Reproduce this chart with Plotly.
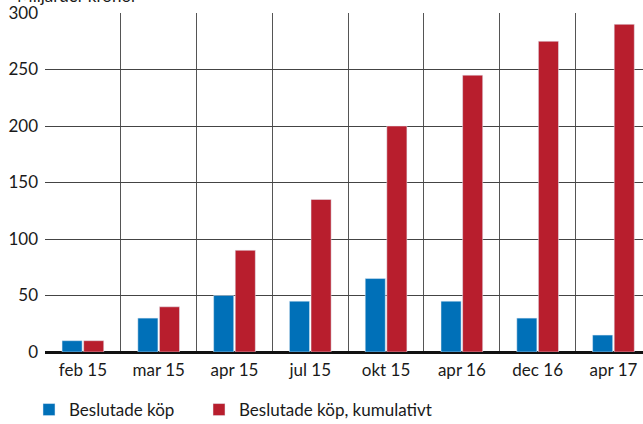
import plotly.graph_objects as go

categories = ["feb 15", "mar 15", "apr 15", "jul 15", "okt 15", "apr 16", "dec 16", "apr 17"]
beslutade = [10, 30, 50, 45, 65, 45, 30, 15]
kumulativt = [10, 40, 90, 135, 200, 245, 275, 290]
y_ticks = [0, 50, 100, 150, 200, 250, 300]

FONT = "Lato"
BLUE = "#0070b8"
RED = "#b81e2d"

fig = go.Figure()
fig.add_bar(x=categories, y=beslutade, name="Beslutade köp", marker_color=BLUE,
            legend="legend", showlegend=True)
fig.add_bar(x=categories, y=kumulativt, name="Beslutade köp, kumulativt", marker_color=RED,
            legend="legend2", showlegend=True)

legend_common = dict(orientation="h", xref="container", yref="container",
                     xanchor="left", y=0.033, yanchor="middle",
                     font=dict(size=17), bgcolor="rgba(0,0,0,0)")

fig.update_layout(
    width=643, height=424,
    showlegend=True,
    margin=dict(l=45, r=0, t=13, b=72, autoexpand=False),
    paper_bgcolor="white", plot_bgcolor="white",
    barmode="group", bargap=0.43, bargroupgap=0.07,
    font=dict(family=FONT, size=17, color="#1a1a1a"),
    legend=dict(x=0.0451, **legend_common),
    legend2=dict(x=0.3095, **legend_common),
    annotations=[dict(text="Miljarder kronor", xref="paper", yref="paper",
                      x=-0.05, y=1.0, xanchor="left", yanchor="bottom", yshift=5,
                      showarrow=False, font=dict(size=17))],
)
fig.update_xaxes(
    type="category", range=[-0.5, 7.39],
    showgrid=True, gridcolor="#555", gridwidth=1, tickson="boundaries",
    ticks="", showline=False, ticklabelstandoff=6,
)
fig.update_yaxes(
    range=[0, 300], tickvals=y_ticks, showgrid=True, gridcolor="#444", gridwidth=1,
    zeroline=True, zerolinecolor="#111", zerolinewidth=3,
    ticks="", ticklabelstandoff=6,
)
fig.write_html("out.html")
